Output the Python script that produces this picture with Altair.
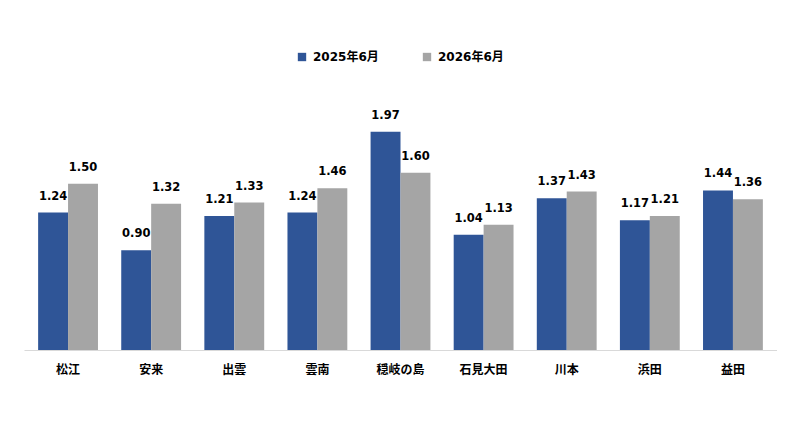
import altair as alt
import pandas as pd

categories = ["松江", "安来", "出雲", "雲南", "穏岐の島", "石見大田", "川本", "浜田", "益田"]
series_names = ["2025年6月", "2026年6月"]
values_2025 = [1.24, 0.90, 1.21, 1.24, 1.97, 1.04, 1.37, 1.17, 1.44]
values_2026 = [1.50, 1.32, 1.33, 1.46, 1.60, 1.13, 1.43, 1.21, 1.36]

rows = []
for c, a, b in zip(categories, values_2025, values_2026):
    rows.append({"area": c, "series": series_names[0], "value": a})
    rows.append({"area": c, "series": series_names[1], "value": b})
df = pd.DataFrame(rows)
df["label"] = df["value"].map(lambda v: f"{v:.2f}")

FONT = "DejaVu Sans, 'Noto Sans CJK JP', sans-serif"

x = alt.X("area:N", sort=categories, title=None,
          scale=alt.Scale(paddingInner=0.28, paddingOuter=0.17),
          axis=alt.Axis(labelAngle=0, ticks=False, labelPadding=14, labelFontSize=12,
                        labelFontWeight="bold", labelFont=FONT, labelColor="#000000",
                        domainColor="#d9d9d9", domainWidth=1))
y = alt.Y("value:Q", title=None, scale=alt.Scale(domain=[0, 2.4], nice=False),
          axis=None)
xo = alt.XOffset("series:N", sort=series_names)

bars = alt.Chart(df).mark_bar().encode(
    x=x, y=y, xOffset=xo,
    color=alt.Color("series:N", sort=series_names, title=None,
                    scale=alt.Scale(domain=series_names, range=["#2F5597", "#A5A5A5"]),
                    legend=alt.Legend(orient="none", legendX=272, legendY=-33,
                                      direction="horizontal", symbolType="square",
                                      symbolSize=70, symbolStrokeWidth=0,
                                      labelFontSize=12, labelFontWeight="bold",
                                      labelFont=FONT, labelColor="#000000",
                                      labelOffset=5, columnPadding=42))
)

labels = alt.Chart(df).mark_text(baseline="bottom", dy=-11, fontSize=11.5,
                                 fontWeight="bold", font=FONT, color="#000000").encode(
    x=x, y=y, xOffset=xo, text="label:N"
)

chart = (bars + labels).properties(
    width=753, height=266,
    autosize=alt.AutoSizeParams(type="none"),
    padding={"left": 16, "top": 76, "right": 0, "bottom": 70},
).configure_view(stroke=None)

chart.save("out.html", embed_options={"renderer": "svg", "actions": False})
